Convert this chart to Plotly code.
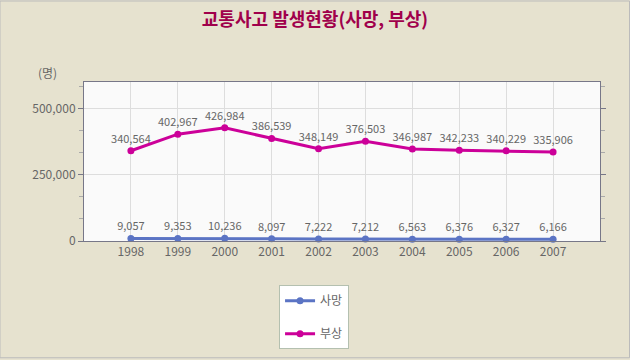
import plotly.graph_objects as go

years = ["1998", "1999", "2000", "2001", "2002", "2003", "2004", "2005", "2006", "2007"]
deaths = [9057, 9353, 10236, 8097, 7222, 7212, 6563, 6376, 6327, 6166]
injuries = [340564, 402967, 426984, 386539, 348149, 376503, 346987, 342233, 340229, 335906]
tick_vals = [0, 250000, 500000]
tick_text = ["0", "250,000", "500,000"]

FONT = "Noto Sans CJK KR, DejaVu Sans, sans-serif"
xs = list(range(len(years)))

fig = go.Figure()
fig.add_trace(go.Scatter(
    x=xs, y=deaths, name="사망", mode="lines+markers+text", legendgroup="a",
    line=dict(color="#5b74c4", width=3), marker=dict(size=7, color="#5b74c4"),
    text=[f"{v:,}" for v in deaths], textposition="top center",
    textfont=dict(size=11, color="#666666", family=FONT), cliponaxis=False))
fig.add_trace(go.Scatter(
    x=xs, y=injuries, name="부상", mode="lines+markers+text", legendgroup="b",
    line=dict(color="#cc0099", width=3), marker=dict(size=7, color="#cc0099"),
    text=[f"{v:,}" for v in injuries], textposition="top center",
    textfont=dict(size=11, color="#666666", family=FONT), cliponaxis=False))

fig.update_layout(
    width=630, height=360,
    margin=dict(l=84, r=30, t=82, b=118),
    paper_bgcolor="#e6e2cf", plot_bgcolor="#fafafa",
    font=dict(family=FONT, color="#666666", size=12),
    title=dict(text="<b>교통사고 발생현황(사망, 부상)</b>", x=0.5, xanchor="center",
               y=0.945, yanchor="middle",
               font=dict(size=18, color="#a0004b", family=FONT)),
    showlegend=True,
    legend=dict(x=0.378, y=-0.27, xanchor="left", yanchor="top",
                bgcolor="#ffffff", bordercolor="#b4c0b0", borderwidth=1,
                font=dict(size=12, color="#666666"), tracegroupgap=14,
                itemwidth=30),
    xaxis=dict(range=[-1, 10], tickvals=xs, ticktext=years, showgrid=True,
               gridcolor="#dddddd", showline=True, linecolor="#777788", linewidth=1,
               mirror=True, zeroline=False, ticks="", tickfont=dict(size=12, color="#666666")),
    yaxis=dict(range=[0, 600000], tickvals=tick_vals, ticktext=tick_text,
               showgrid=True, gridcolor="#dddddd", showline=True, linecolor="#777788",
               linewidth=1, mirror="ticks", zeroline=False, ticks="outside", ticklen=5,
               tickcolor="#777788",
               minor=dict(dtick=250000/3, ticks="outside", ticklen=4, tickcolor="#aaaaaa", showgrid=False),
               tickfont=dict(size=12, color="#666666")),
)
fig.add_annotation(text="(명)", xref="paper", yref="paper", x=-0.07, y=1 + 10/160,
                   xanchor="center", yanchor="middle", showarrow=False,
                   font=dict(size=12, color="#666666"))
fig.add_shape(type="rect", xref="paper", yref="paper", x0=-84/516, x1=1+29.5/516,
              y0=-117.5/160, y1=1+81.5/160, line=dict(color="#bbbbbb", width=1))
fig.write_html("out.html", config={"displayModeBar": False},
               post_script="document.body.style.margin='0';")
